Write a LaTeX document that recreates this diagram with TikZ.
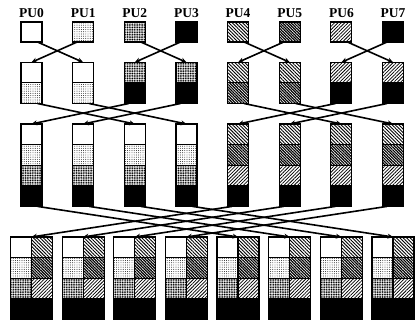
\documentclass[tikz,border=0pt]{standalone}
\usepackage{fontspec}
\setmainfont{Liberation Serif}
\usetikzlibrary{patterns,patterns.meta,arrows.meta}
\tikzset{
  cellbox/.style={draw, line width=1.1pt, minimum width=21pt, minimum height=20.6pt, inner sep=0pt, outer sep=0pt, anchor=north},
  sqbox/.style={cellbox, minimum height=20pt},
  p0/.style={fill=white},
  p1/.style={pattern={Dots[radius=0.45pt,distance=2.2pt]}},
  p2/.style={pattern={Dots[radius=0.7pt,distance=1.7pt]}},
  p3/.style={fill=black},
  p4/.style={pattern={Lines[angle=-45,distance=2.4pt,line width=0.9pt]}},
  p5/.style={pattern={Lines[angle=-45,distance=2.0pt,line width=1.2pt]}},
  p6/.style={pattern={Lines[angle=45,distance=2.4pt,line width=0.75pt]}},
  p7/.style={fill=black},
  conn/.style={line width=1.6pt, -{Stealth[length=5.5pt,width=5pt]}},
  lbl/.style={font=\bfseries\fontsize{13.5}{13.5}\selectfont, anchor=base, inner sep=0pt}
}
\begin{document}
\begin{tikzpicture}[x=1pt,y=-1pt]
\useasboundingbox (0,0) rectangle (416,320);
\foreach \i in {0,...,7}{
  \pgfmathsetmacro\cx{31.5+51.65*\i}
  % labels and row 1
  \node[lbl] (lab\i) at (\cx,17.5) {PU\i};
  \node[sqbox,p\i] (r1c\i) at (\cx,22) {};
  % row 2
  \pgfmathtruncatemacro\ta{2*floor(\i/2)}
  \pgfmathtruncatemacro\tb{2*floor(\i/2)+1}
  \node[cellbox,p\ta] (r2c\i a) at (\cx,62.3) {};
  \node[cellbox,p\tb] (r2c\i b) at (\cx,82.9) {};
  % row 3
  \foreach \k in {0,...,3}{
    \pgfmathtruncatemacro\tc{4*floor(\i/4)+\k}
    \pgfmathsetmacro\yy{124+20.6*\k}
    \node[cellbox,p\tc] (r3c\i k\k) at (\cx,\yy) {};
  }
  % row 4
  \foreach \k in {0,...,3}{
    \pgfmathtruncatemacro\tr{4+\k}
    \pgfmathsetmacro\yy{237+20.6*\k}
    \node[cellbox,line width=1.3pt,p\k] (r4c\i L\k) at (\cx-10.5,\yy) {};
    \node[cellbox,line width=1.3pt,p\tr] (r4c\i R\k) at (\cx+10.5,\yy) {};
  }
}
% row 1 -> row 2
\foreach \a/\b in {0/1,2/3,4/5,6/7}{
  \draw[conn] ([xshift=6pt]r1c\a.south) -- (r2c\b a.north);
  \draw[conn] ([xshift=-6pt]r1c\b.south) -- (r2c\a a.north);
}
% row 2 -> row 3
\foreach \a/\b in {0/2,1/3,4/6,5/7}{
  \draw[conn] ([xshift=6pt]r2c\a b.south) -- (r3c\b k0.north);
  \draw[conn] ([xshift=-6pt]r2c\b b.south) -- (r3c\a k0.north);
}
% row 3 -> row 4
\foreach \a/\b in {0/4,1/5,2/6,3/7}{
  \draw[conn] ([xshift=6pt]r3c\a k3.south) -- (r4c\b L0.north east);
  \draw[conn] ([xshift=-6pt]r3c\b k3.south) -- (r4c\a L0.north east);
}
\end{tikzpicture}
\end{document}
